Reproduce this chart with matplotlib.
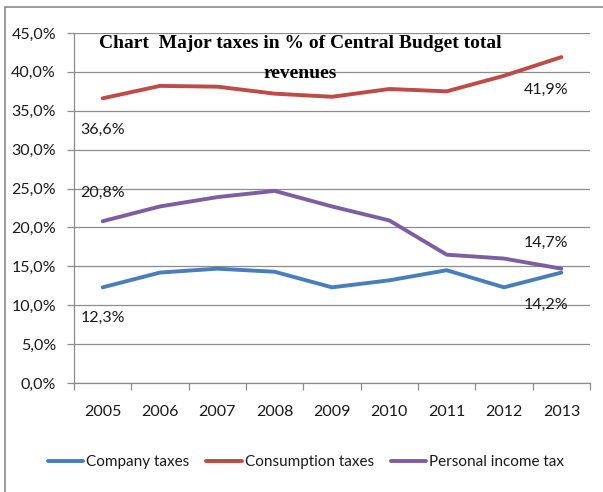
import matplotlib
matplotlib.use("Agg")
import matplotlib.pyplot as plt
from matplotlib.patches import Rectangle
from matplotlib.ticker import FuncFormatter, FixedLocator

years = ["2005", "2006", "2007", "2008", "2009", "2010", "2011", "2012", "2013"]
company = [12.3, 14.2, 14.7, 14.3, 12.3, 13.2, 14.5, 12.3, 14.2]
consumption = [36.6, 38.2, 38.1, 37.2, 36.8, 37.8, 37.5, 39.5, 41.9]
personal = [20.8, 22.7, 23.9, 24.7, 22.7, 20.9, 16.5, 16.0, 14.7]
series_names = ["Company taxes", "Consumption taxes", "Personal income tax"]
colors = ["#4A7EBB", "#BE4B48", "#7D5FA0"]
title = "Chart  Major taxes in % of Central Budget total\nrevenues"

FONT = ["Lato", "DejaVu Sans"]
plt.rcParams["font.family"] = FONT
FS = 11.5
TXT = "#1a1a1a"
GRID = "#8c8c8c"

fig = plt.figure(figsize=(6.03, 4.92), dpi=100)
fig.patch.set_facecolor("white")
# chart frame (only top and left edges visible in the image)
fig.patches.append(Rectangle((5 / 603, -0.05), 1.2, 1 - 7 / 492 + 0.05,
                             transform=fig.transFigure, fill=False,
                             edgecolor="#8a8a8a", lw=1.2))

ax = fig.add_axes([74 / 603, 1 - 383 / 492, (590 - 74) / 603, (383 - 33) / 492])
x = list(range(len(years)))
for vals, name, c in zip([company, consumption, personal], series_names, colors):
    ax.plot(x, vals, color=c, lw=2.8, label=name, solid_capstyle="round",
            solid_joinstyle="round", zorder=3)

ax.set_xlim(-0.5, len(years) - 0.5)
ax.set_ylim(0, 45)
ax.set_yticks([0, 5, 10, 15, 20, 25, 30, 35, 40, 45])
ax.yaxis.set_major_formatter(FuncFormatter(lambda v, p: f"{v:.1f}%".replace(".", ",")))
ax.set_xticks(x)
ax.set_xticklabels(years)
ax.xaxis.set_minor_locator(FixedLocator([i - 0.5 for i in range(len(years) + 1)]))
ax.tick_params(axis="x", which="major", length=0, pad=16, labelsize=FS, colors=TXT)
ax.tick_params(axis="x", which="minor", length=5, color=GRID, width=0.9)
ax.tick_params(axis="y", length=5, color=GRID, width=0.9, pad=8, labelsize=FS,
               labelcolor=TXT)
ax.grid(axis="y", color=GRID, lw=0.9, zorder=0)
ax.set_axisbelow(True)
for s in ["top", "right"]:
    ax.spines[s].set_visible(False)
for s in ["left", "bottom"]:
    ax.spines[s].set_color(GRID)
    ax.spines[s].set_linewidth(0.9)

# data labels
def lab(i, v, dx, dy):
    ax.annotate(f"{v:.1f}%".replace(".", ","), (i, v), xytext=(dx, dy),
                textcoords="offset pixels", ha="center", va="center",
                fontsize=FS, color=TXT, zorder=4)

lab(0, consumption[0], 0, -32)
lab(8, consumption[8], -15, -33)
lab(0, personal[0], 0, 28)
lab(8, personal[8], -15, 26)
lab(8, company[8], -15, -32)
lab(0, company[0], 0, -31)

fig.text(300 / 603, 1 - 58.5 / 492, title, ha="center", va="center",
         fontsize=14, fontweight="bold", family=["Liberation Serif", "DejaVu Serif"],
         color="black", linespacing=1.95, zorder=5)

fig.legend(loc="center", bbox_to_anchor=(306 / 603, 1 - 462 / 492), ncol=3,
           frameon=False, fontsize=11, handlelength=2.3, handletextpad=0.2,
           columnspacing=1.1, labelcolor=TXT)

fig.savefig("out.png", dpi=100)
